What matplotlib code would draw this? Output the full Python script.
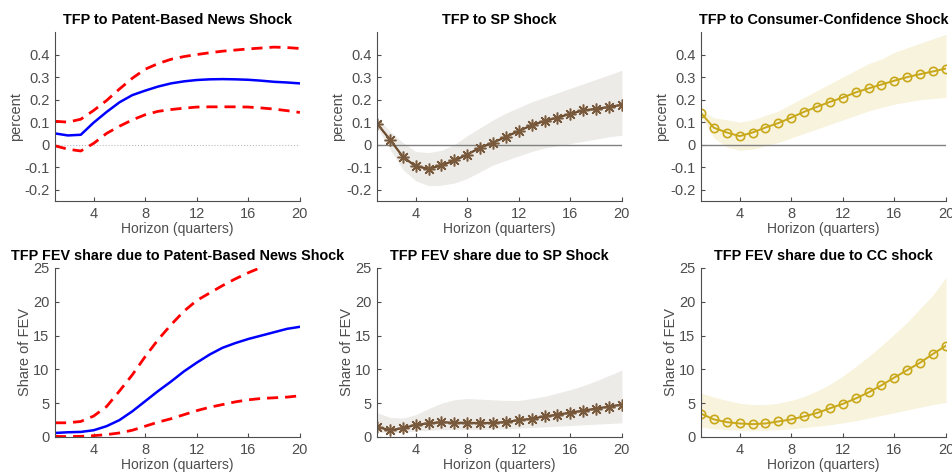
import numpy as np
import matplotlib
matplotlib.use("Agg")
import matplotlib.pyplot as plt

plt.rcParams['font.family'] = ['Liberation Sans', 'DejaVu Sans']

# Horizon
horizon = np.arange(1, 21)

# TFP to patent-based news shock (percent)
pat_irf = [0.050, 0.041, 0.044, 0.098, 0.145, 0.188, 0.220, 0.240, 0.258, 0.272,
           0.281, 0.287, 0.290, 0.291, 0.290, 0.288, 0.284, 0.279, 0.276, 0.272]
pat_irf_hi = [0.104, 0.100, 0.113, 0.152, 0.196, 0.247, 0.295, 0.335, 0.360, 0.379,
              0.391, 0.400, 0.408, 0.415, 0.420, 0.425, 0.429, 0.433, 0.431, 0.427]
pat_irf_lo = [-0.005, -0.020, -0.028, 0.006, 0.050, 0.082, 0.110, 0.133, 0.148, 0.156,
              0.162, 0.167, 0.168, 0.168, 0.168, 0.167, 0.163, 0.158, 0.151, 0.143]

# TFP to SP shock
sp_irf = [0.094, 0.023, -0.053, -0.096, -0.107, -0.092, -0.070, -0.044, -0.013, 0.009,
          0.035, 0.061, 0.086, 0.105, 0.120, 0.137, 0.152, 0.159, 0.167, 0.177]
sp_irf_hi = [0.120, 0.060, 0.010, -0.030, -0.035, -0.025, 0.000, 0.040, 0.075, 0.110,
             0.140, 0.165, 0.190, 0.210, 0.230, 0.250, 0.270, 0.290, 0.310, 0.330]
sp_irf_lo = [0.080, -0.020, -0.110, -0.160, -0.182, -0.180, -0.170, -0.150, -0.120, -0.090,
             -0.070, -0.050, -0.030, -0.015, -0.005, 0.005, 0.015, 0.025, 0.035, 0.042]

# TFP to consumer-confidence shock
cc_irf = [0.140, 0.075, 0.054, 0.038, 0.054, 0.076, 0.096, 0.120, 0.146, 0.168,
          0.190, 0.209, 0.232, 0.250, 0.267, 0.284, 0.300, 0.313, 0.325, 0.338]
cc_irf_hi = [0.150, 0.120, 0.110, 0.100, 0.110, 0.130, 0.150, 0.180, 0.210, 0.240,
             0.270, 0.300, 0.330, 0.360, 0.380, 0.410, 0.430, 0.450, 0.470, 0.490]
cc_irf_lo = [0.130, 0.030, -0.010, -0.025, -0.020, -0.005, 0.010, 0.030, 0.050, 0.070,
             0.090, 0.110, 0.130, 0.150, 0.165, 0.180, 0.190, 0.200, 0.205, 0.210]

# FEV shares (percent)
pat_fev = [0.6, 0.7, 0.75, 1.0, 1.6, 2.5, 3.8, 5.3, 6.8, 8.2,
           9.7, 11.0, 12.2, 13.2, 13.9, 14.5, 15.0, 15.5, 16.0, 16.3]
pat_fev_hi = [2.1, 2.1, 2.3, 3.1, 4.5, 6.8, 9.2, 11.9, 14.4, 16.6,
              18.6, 20.2, 21.3, 22.4, 23.4, 24.3, 25.1, 26.0, 27.0, 28.0]
pat_fev_lo = [0.1, 0.05, 0.1, 0.2, 0.35, 0.6, 1.0, 1.6, 2.2, 2.7,
              3.3, 3.9, 4.4, 4.8, 5.2, 5.5, 5.7, 5.8, 5.9, 6.1]

sp_fev = [1.5, 1.0, 1.3, 1.8, 2.0, 2.2, 2.1, 2.1, 2.05, 2.1,
          2.2, 2.5, 2.7, 3.05, 3.3, 3.6, 3.9, 4.2, 4.5, 4.8]
sp_fev_hi = [3.6, 2.9, 2.8, 3.3, 4.2, 5.0, 5.5, 5.7, 5.6, 5.5,
             5.4, 5.4, 5.7, 6.0, 6.5, 7.0, 7.6, 8.3, 9.1, 9.9]
sp_fev_lo = [0.8, 0.6, 0.7, 0.9, 1.0, 1.1, 1.1, 1.1, 1.1, 1.2,
             1.2, 1.3, 1.4, 1.5, 1.6, 1.7, 1.8, 1.9, 2.0, 2.1]

cc_fev = [3.45, 2.6, 2.2, 2.0, 1.9, 2.0, 2.3, 2.6, 3.05, 3.55,
          4.25, 4.9, 5.7, 6.6, 7.65, 8.8, 9.9, 11.0, 12.3, 13.5]
cc_fev_hi = [6.5, 5.9, 5.4, 5.0, 4.8, 4.8, 5.0, 5.4, 6.0, 6.8,
             7.8, 9.0, 10.4, 11.9, 13.5, 15.2, 17.0, 19.0, 21.0, 23.6]
cc_fev_lo = [1.5, 1.2, 1.1, 1.0, 1.0, 1.0, 1.1, 1.2, 1.4, 1.6,
             1.8, 2.1, 2.4, 2.8, 3.2, 3.6, 4.0, 4.4, 4.8, 5.1]

titles = ["TFP to Patent-Based News Shock", "TFP to SP Shock",
          "TFP to Consumer-Confidence Shock",
          "TFP FEV share due to Patent-Based News Shock",
          "TFP FEV share due to SP Shock", "TFP FEV share due to CC shock"]

BROWN = '#6b4a2e'
BROWN_MK = '#7a5a3c'
BROWN_BAND = '#ecebe8'
GOLD = '#c8a81a'
GOLD_BAND = '#f8f3dc'
AXC = '#4d4d4d'

fig = plt.figure(figsize=(9.53, 4.75), dpi=100)
lefts = [0.0577, 0.3956, 0.7356]
bottoms = [0.5768, 0.08]
w, h = 0.257, 0.3558


def style(ax, ylim, yticks, ylabel):
    ax.set_xlim(1, 20)
    ax.set_ylim(*ylim)
    ax.set_xticks([4, 8, 12, 16, 20])
    ax.set_yticks(yticks)
    for s in ['top', 'right']:
        ax.spines[s].set_visible(False)
    for s in ['left', 'bottom']:
        ax.spines[s].set_color(AXC)
        ax.spines[s].set_linewidth(0.8)
    ax.tick_params(direction='in', length=3, colors=AXC, labelsize=10.5, pad=4)
    ax.set_xlabel("Horizon (quarters)", fontsize=10, color=AXC, labelpad=1)
    ax.set_ylabel(ylabel, fontsize=10.5, color=AXC, labelpad=1)


irf_ticks = [-0.2, -0.1, 0, 0.1, 0.2, 0.3, 0.4]
irf_labels = ['-0.2', '-0.1', '0', '0.1', '0.2', '0.3', '0.4']
fev_ticks = [0, 5, 10, 15, 20, 25]

axes = []
for r in range(2):
    for c in range(3):
        axes.append(fig.add_axes([lefts[c], bottoms[r], w, h]))

# Row 1: impulse responses
ax = axes[0]
ax.axhline(0, color='#bbbbbb', lw=0.8, ls=':')
ax.plot(horizon, pat_irf_hi, color='red', lw=2, ls=(0, (4, 2.5)))
ax.plot(horizon, pat_irf_lo, color='red', lw=2, ls=(0, (4, 2.5)))
ax.plot(horizon, pat_irf, color='blue', lw=1.8)

ax = axes[1]
ax.fill_between(horizon, sp_irf_lo, sp_irf_hi, color=BROWN_BAND, lw=0)
ax.axhline(0, color='#808080', lw=1)
ax.plot(horizon, sp_irf, color=BROWN, lw=1.6, marker=(8, 2, 0), ms=8.5,
        mew=1.1, mec=BROWN_MK)

ax = axes[2]
ax.fill_between(horizon, cc_irf_lo, cc_irf_hi, color=GOLD_BAND, lw=0)
ax.axhline(0, color='#808080', lw=1)
ax.plot(horizon, cc_irf, color=GOLD, lw=1.4, marker='o', ms=6, mfc='none', mew=1.2)

for ax in axes[:3]:
    style(ax, (-0.25, 0.5), irf_ticks, "percent")
    ax.set_yticklabels(irf_labels)

# Row 2: FEV shares
ax = axes[3]
ax.plot(horizon, pat_fev_hi, color='red', lw=2, ls=(0, (4, 2.5)))
ax.plot(horizon, pat_fev_lo, color='red', lw=2, ls=(0, (4, 2.5)))
ax.plot(horizon, pat_fev, color='blue', lw=1.8)

ax = axes[4]
ax.fill_between(horizon, sp_fev_lo, sp_fev_hi, color=BROWN_BAND, lw=0)
ax.plot(horizon, sp_fev, color=BROWN, lw=1.6, marker=(8, 2, 0), ms=8.5,
        mew=1.1, mec=BROWN_MK)

ax = axes[5]
ax.fill_between(horizon, cc_fev_lo, cc_fev_hi, color=GOLD_BAND, lw=0)
ax.plot(horizon, cc_fev, color=GOLD, lw=1.4, marker='o', ms=6, mfc='none', mew=1.2)

for ax in axes[3:]:
    style(ax, (0, 25), fev_ticks, "Share of FEV")

for ax, t in zip(axes, titles):
    ax.set_title(t, fontsize=10.4, fontweight='bold', pad=6)

fig.savefig("out.png", dpi=100)
